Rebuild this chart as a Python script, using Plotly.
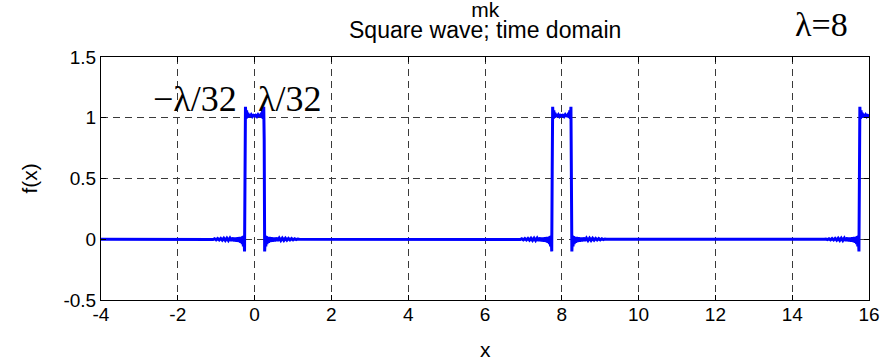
import plotly.graph_objects as go

# ---------------- data ----------------
lam = 8
pulse_centers = [0, 8, 16]          # pulses repeat every lambda
half_width = 0.25                   # lambda/32

# Gibbs ringing just outside an edge: distance outward from edge, f value
ring_out_d = [0.00, 0.015, 0.03, 0.045, 0.06, 0.08, 0.10, 0.12, 0.14, 0.17,
              0.20, 0.23, 0.26, 0.30, 0.34, 0.38, 0.42, 0.46, 0.50, 0.54,
              0.58, 0.62, 0.66, 0.70, 0.74, 0.78, 0.82, 0.86, 0.90]
ring_out_y = [-0.10, 0.03, -0.06, 0.025, -0.04, 0.02, -0.03, 0.018, -0.022, 0.015,
              -0.018, 0.012, -0.015, 0.012, -0.012, 0.010, -0.010, 0.009, -0.009, 0.008,
              -0.008, 0.007, -0.006, 0.006, -0.005, 0.004, -0.003, 0.002, 0.0]

# ringing on the plateau: distance inward from edge, f value
ring_in_d = [0.00, 0.015, 0.03, 0.045, 0.06, 0.08, 0.10, 0.12, 0.15, 0.18, 0.21, 0.25]
ring_in_y = [1.09, 0.99, 1.06, 1.00, 1.04, 1.005, 1.03, 1.01, 1.025, 1.01, 1.02, 1.015]

# intermediate samples seen on some edges (None = clean vertical edge)
rise_mid = [None, 0.56, None]
fall_mid = [0.82, 0.27, None]

x_start, x_end = -4, 16
x_ticks = [-4, -2, 0, 2, 4, 6, 8, 10, 12, 14, 16]
y_ticks = [-0.5, 0, 0.5, 1, 1.5]
y_tick_text = ["-0.5", "0", "0.5", "1", "1.5"]
x_tick_text = [str(v) for v in x_ticks]

# ---------------- build the curve from the arrays ----------------
xs, ys = [x_start], [0.0]
for i, c in enumerate(pulse_centers):
    left, right = c - half_width, c + half_width
    for d, v in reversed(list(zip(ring_out_d, ring_out_y))):
        xs.append(left - 0.012 - d); ys.append(v)
    if rise_mid[i] is not None:
        xs.append(left); ys.append(rise_mid[i])
    for d, v in zip(ring_in_d, ring_in_y):
        xs.append(left + 0.012 + d); ys.append(v)
    for d, v in reversed(list(zip(ring_in_d[:-1], ring_in_y[:-1]))):
        xs.append(right - 0.012 - d); ys.append(v)
    if fall_mid[i] is not None:
        xs.append(right); ys.append(fall_mid[i])
    for d, v in zip(ring_out_d, ring_out_y):
        xs.append(right + 0.012 + d); ys.append(v)
xs.append(x_end + 1); ys.append(0.0)

fig = go.Figure()
fig.add_trace(go.Scatter(x=xs, y=ys, mode="lines",
                         line=dict(color="#0000ff", width=3),
                         hoverinfo="skip", showlegend=False))

SANS = "Liberation Sans, Arial, sans-serif"
SERIF = "Liberation Serif, Times New Roman, serif"
grid = dict(showgrid=True, gridcolor="#3a3a3a", gridwidth=1, griddash="7px,5px",
            zeroline=False, showline=True, linecolor="black", linewidth=1,
            mirror="ticks", ticks="inside", ticklen=5, tickcolor="black",
            tickfont=dict(family=SANS, size=19, color="black"))

fig.update_layout(
    width=896, height=360,
    margin=dict(l=101, r=27, t=57, b=60, autoexpand=False),
    paper_bgcolor="white", plot_bgcolor="white",
    xaxis=dict(range=[x_start, x_end], tickvals=x_ticks, ticktext=x_tick_text,
               ticklabelstandoff=-3, **grid),
    yaxis=dict(range=[-0.5, 1.5], tickvals=y_ticks, ticktext=y_tick_text, **grid),
    font=dict(family=SANS, color="black"),
)

def txt(text, x, y, size, family=SANS, xref="paper", yref="paper", angle=0,
        yanchor="middle"):
    return dict(text=text, x=x, y=y, xref=xref, yref=yref, showarrow=False,
                xanchor="center", yanchor=yanchor, textangle=angle,
                font=dict(family=family, size=size, color="black"))

title_text = ('<span style="font-size:21px">mk</span><br>'
              '<span style="font-size:23px">Square wave; time domain</span>')
ann = [
    txt(title_text, 0.5, 1.252, 16, yanchor="top"),
    txt("λ=%d" % lam, 0.9375, 1.134, 34, SERIF),
    txt("−λ/32", -1.55, 1.155, 36, SERIF, "x", "y"),
    txt("λ/32", 0.90, 1.155, 36, SERIF, "x", "y"),
    txt("x", 0.5, -0.203, 21),
    txt("f(x)", -0.0925, 0.5, 21, angle=-90),
]
fig.update_layout(annotations=ann)

fig.write_html("out.html", config={"displayModeBar": False})

# remove the browser's default 8px body margin so the figure fills the window
with open("out.html", encoding="utf-8") as f:
    html = f.read()
html = html.replace("<body>", '<body style="margin:0;padding:0;overflow:hidden">', 1)
with open("out.html", "w", encoding="utf-8") as f:
    f.write(html)
